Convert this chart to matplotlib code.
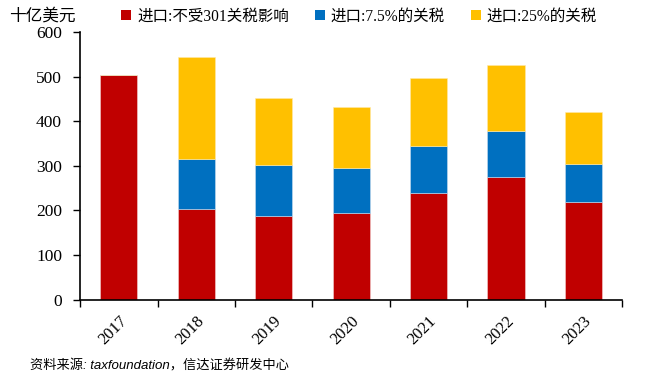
import numpy as np
import matplotlib
matplotlib.use("Agg")
import matplotlib.pyplot as plt
from matplotlib.patches import Patch

plt.rcParams['font.family'] = ['Liberation Serif', 'Noto Sans CJK SC']
plt.rcParams['axes.unicode_minus'] = False

# ===== 数据 =====
years = ["2017", "2018", "2019", "2020", "2021", "2022", "2023"]
no_tariff = [503, 203, 188, 194, 239, 275, 218]
tariff_7_5 = [0, 113, 113, 101, 105, 103, 85]
tariff_25 = [0, 227, 151, 137, 154, 149, 118]
series_names = ["进口:不受301关税影响", "进口:7.5%的关税", "进口:25%的关税"]
colors = ["#C00000", "#0070C0", "#FFC000"]

# ===== 画图 =====
fig = plt.figure(figsize=(6.46, 3.91), dpi=100)
ax = fig.add_axes([0.124, 0.234, 0.839, 0.684])

x = np.arange(len(years))
w = 0.48
b1 = np.array(no_tariff)
b2 = b1 + np.array(tariff_7_5)
ax.bar(x, no_tariff, w, color=colors[0], edgecolor="#f2d0d0", linewidth=0.4)
ax.bar(x, tariff_7_5, w, bottom=b1, color=colors[1], edgecolor="#c8dcef", linewidth=0.4)
ax.bar(x, tariff_25, w, bottom=b2, color=colors[2], edgecolor="#ffe9a8", linewidth=0.4)

ax.set_xlim(-0.5, len(years) - 0.5)
ax.set_ylim(0, 600)
ax.set_yticks(range(0, 601, 100))
ax.tick_params(axis="y", labelsize=12.5, length=5, width=1, direction="out", pad=8)

ax.set_xticks(x)
ax.set_xticklabels(years, rotation=45, ha="right", rotation_mode="anchor", fontsize=12)
ax.tick_params(axis="x", which="major", length=0, pad=10)
ax.set_xticks(np.arange(-0.5, len(years), 1), minor=True)
ax.tick_params(axis="x", which="minor", length=5, width=1, direction="out")

for s in ["top", "right"]:
    ax.spines[s].set_visible(False)
ax.spines["left"].set_linewidth(1.2)
ax.spines["bottom"].set_linewidth(1.2)

fig.text(0.014, 0.96, "十亿美元", fontsize=12, va="center", ha="left",
         family=["Noto Sans CJK SC"])

handles = [Patch(facecolor=c, edgecolor="none") for c in colors]
fig.legend(handles, series_names, loc="center left", bbox_to_anchor=(0.188, 0.958),
           ncol=3, frameon=False, handlelength=0.6, handleheight=0.6,
           handletextpad=0.4, columnspacing=1.7, borderaxespad=0, borderpad=0,
           prop={"family": ["Liberation Serif", "Noto Sans CJK SC"], "size": 11.2})

fig.text(0.046, 0.063, "资料来源: taxfoundation，信达证券研发中心", fontsize=9.5,
         style="italic", va="center", ha="left",
         family=["Liberation Sans", "Noto Sans CJK SC"])

fig.savefig("out.png", dpi=100)
